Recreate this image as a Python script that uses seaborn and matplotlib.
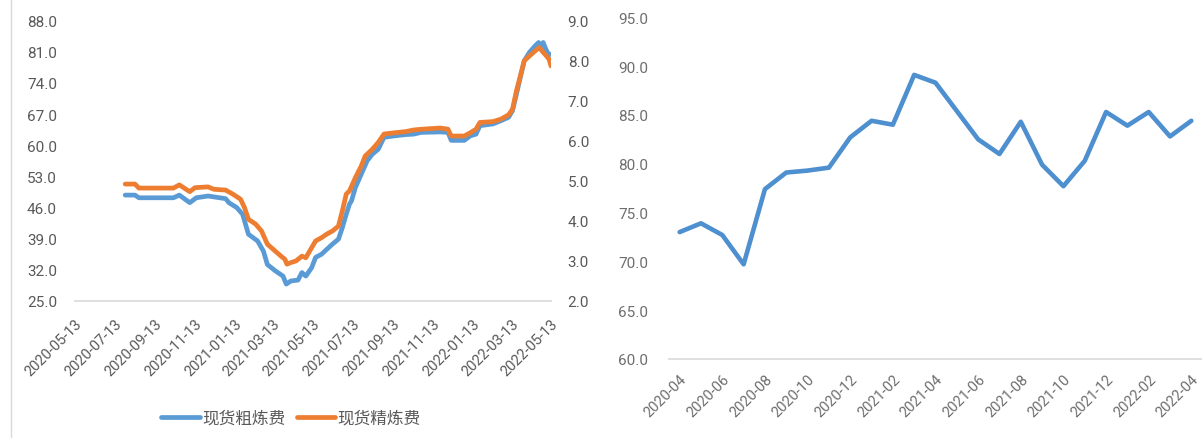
import matplotlib
matplotlib.use("Agg")
import matplotlib.pyplot as plt
from matplotlib.lines import Line2D
import numpy as np
import pandas as pd
import seaborn as sns

# ---------------- data ----------------
# Spot copper concentrate TC (USD/t), left axis
crude_dates = [
    "2020-07-29", "2020-08-13", "2020-08-19", "2020-10-11", "2020-10-20", "2020-11-05",
    "2020-11-15", "2020-12-03", "2020-12-30", "2021-01-04", "2021-01-16", "2021-01-25",
    "2021-02-03", "2021-02-17", "2021-02-26", "2021-03-04", "2021-03-16", "2021-03-28",
    "2021-04-02", "2021-04-09", "2021-04-20", "2021-04-26", "2021-05-02", "2021-05-11",
    "2021-05-17", "2021-05-26", "2021-06-03", "2021-06-12", "2021-06-21", "2021-06-27",
    "2021-07-03", "2021-07-08", "2021-07-11", "2021-07-17", "2021-07-26", "2021-08-04",
    "2021-08-12", "2021-08-21", "2021-08-30", "2021-09-14", "2021-10-02", "2021-10-14",
    "2021-10-26", "2021-11-24", "2021-12-06", "2021-12-11", "2021-12-31", "2022-01-09",
    "2022-01-18", "2022-01-24", "2022-02-13", "2022-02-25", "2022-03-09", "2022-03-15",
    "2022-03-21", "2022-03-27", "2022-04-02", "2022-04-10", "2022-04-19", "2022-04-24",
    "2022-04-26", "2022-05-01", "2022-05-05", "2022-05-09", "2022-05-13",
]
crude_tc = [
    48.8, 48.8, 48.2, 48.2, 48.8, 47.1,
    48.2, 48.6, 48.0, 47.1, 46.0, 44.5,
    40.0, 38.5, 36.2, 33.2, 31.8, 30.6,
    28.8, 29.5, 29.7, 31.4, 30.6, 32.5,
    34.8, 35.5, 36.6, 37.8, 38.9, 41.5,
    44.5, 46.8, 47.5, 50.5, 53.5, 56.5,
    58.0, 59.1, 61.8, 62.1, 62.4, 62.5,
    62.9, 63.0, 62.9, 61.1, 61.1, 62.1,
    62.5, 64.4, 64.8, 65.5, 66.3, 67.8,
    71.5, 75.3, 79.0, 80.9, 82.4, 83.1,
    82.0, 83.1, 81.6, 80.5, 80.4,
]

# Spot refining charge RC (US cents/lb), right axis
refine_dates = [
    "2020-07-29", "2020-08-13", "2020-08-19", "2020-10-11", "2020-10-20", "2020-11-05",
    "2020-11-13", "2020-12-03", "2020-12-12", "2020-12-30", "2021-01-10", "2021-01-22",
    "2021-01-28", "2021-02-03", "2021-02-14", "2021-02-23", "2021-03-04", "2021-03-13",
    "2021-03-25", "2021-03-31", "2021-04-03", "2021-04-09", "2021-04-17", "2021-04-26",
    "2021-05-02", "2021-05-08", "2021-05-17", "2021-05-26", "2021-06-03", "2021-06-12",
    "2021-06-21", "2021-06-27", "2021-07-03", "2021-07-08", "2021-07-17", "2021-07-26",
    "2021-08-01", "2021-08-12", "2021-08-21", "2021-08-30", "2021-09-14", "2021-10-02",
    "2021-10-14", "2021-10-26", "2021-11-24", "2021-12-06", "2021-12-11", "2021-12-31",
    "2022-01-09", "2022-01-18", "2022-01-24", "2022-02-13", "2022-02-25", "2022-03-09",
    "2022-03-15", "2022-03-21", "2022-03-27", "2022-04-02", "2022-04-10", "2022-04-19",
    "2022-04-25", "2022-05-01", "2022-05-06", "2022-05-10", "2022-05-13",
]
refine_rc = [
    4.92, 4.92, 4.82, 4.82, 4.90, 4.73,
    4.83, 4.85, 4.79, 4.77, 4.67, 4.54,
    4.33, 4.04, 3.92, 3.75, 3.42, 3.29,
    3.12, 3.04, 2.92, 2.96, 3.00, 3.12,
    3.08, 3.25, 3.50, 3.58, 3.67, 3.75,
    3.87, 4.25, 4.67, 4.75, 5.08, 5.37,
    5.62, 5.79, 5.96, 6.17, 6.20, 6.23,
    6.27, 6.29, 6.32, 6.29, 6.12, 6.12,
    6.20, 6.29, 6.46, 6.48, 6.54, 6.65,
    6.79, 7.25, 7.62, 8.00, 8.12, 8.25,
    8.33, 8.21, 8.12, 8.04, 7.87,
]

date_ticks = [
    "2020-05-13", "2020-07-13", "2020-09-13", "2020-11-13", "2021-01-13", "2021-03-13",
    "2021-05-13", "2021-07-13", "2021-09-13", "2021-11-13", "2022-01-13", "2022-03-13",
    "2022-05-13",
]
left_yticks = [25, 32, 39, 46, 53, 60, 67, 74, 81, 88]
right_yticks = [2, 3, 4, 5, 6, 7, 8, 9]
series_names = ["现货粗炼费", "现货精炼费"]

# Monthly series for the second panel
months = [
    "2020-04", "2020-05", "2020-06", "2020-07", "2020-08", "2020-09", "2020-10",
    "2020-11", "2020-12", "2021-01", "2021-02", "2021-03", "2021-04", "2021-05",
    "2021-06", "2021-07", "2021-08", "2021-09", "2021-10", "2021-11", "2021-12",
    "2022-01", "2022-02", "2022-03", "2022-04",
]
monthly_values = [
    73.0, 73.9, 72.7, 69.7, 77.4, 79.1, 79.3,
    79.6, 82.7, 84.4, 84.0, 89.1, 88.3, 85.4,
    82.5, 81.0, 84.3, 79.9, 77.7, 80.3, 85.3,
    83.9, 85.3, 82.8, 84.4,
]
monthly_yticks = [60, 65, 70, 75, 80, 85, 90, 95]

# ---------------- style ----------------
sns.set_theme(style="white")
plt.rcParams["font.family"] = ["Roboto", "Noto Sans CJK SC", "DejaVu Sans"]

BLUE = "#5B9BD5"
ORANGE = "#ED7D31"
LINE_BLUE = "#4D8FCF"
AXIS_GREY = "#D9D9D9"
TEXT = "#595959"
TEXT2 = "#6E6E6E"

W, H = 1202, 439
fig = plt.figure(figsize=(W / 100, H / 100), dpi=100)
fig.patch.set_facecolor("white")


def box(x0, y0, x1, y1):
    return [x0 / W, 1 - y1 / H, (x1 - x0) / W, (y1 - y0) / H]


# ---------------- left panel: TC / RC ----------------
crude_df = pd.DataFrame({"date": pd.to_datetime(crude_dates), "value": crude_tc})
refine_df = pd.DataFrame({"date": pd.to_datetime(refine_dates), "value": refine_rc})

ax = fig.add_axes(box(75, 21.7, 551, 302))
ax2 = ax.twinx()

sns.lineplot(data=crude_df, x="date", y="value", ax=ax, color=BLUE, linewidth=3.4,
             solid_joinstyle="round", solid_capstyle="round")
sns.lineplot(data=refine_df, x="date", y="value", ax=ax2, color=ORANGE, linewidth=3.4,
             solid_joinstyle="round", solid_capstyle="round")

tick_dates = pd.to_datetime(date_ticks)
ax.set_xlim(tick_dates[0], tick_dates[-1])
ax.set_xticks(tick_dates)
ax.set_xticklabels(date_ticks, rotation=45, ha="right", va="top",
                   rotation_mode="anchor", fontsize=10.5, color=TEXT)

ax.set_ylim(left_yticks[0], left_yticks[-1])
ax.set_yticks(left_yticks)
ax.set_yticklabels([f"{v:.1f}" for v in left_yticks], fontsize=11, color=TEXT)
ax2.set_ylim(right_yticks[0], right_yticks[-1])
ax2.set_yticks(right_yticks)
ax2.set_yticklabels([f"{v:.1f}" for v in right_yticks], fontsize=11, color=TEXT)

for a in (ax, ax2):
    a.set_xlabel("")
    a.set_ylabel("")
    for s in ("left", "right", "top"):
        a.spines[s].set_visible(False)
    a.grid(False)
ax2.spines["bottom"].set_visible(False)
ax.spines["bottom"].set_color(AXIS_GREY)
ax.spines["bottom"].set_linewidth(1.2)
ax.set_facecolor("none")
ax.tick_params(axis="x", length=5, width=1, color=AXIS_GREY, pad=6, direction="out")
ax.tick_params(axis="y", length=0, pad=13)
ax2.tick_params(axis="y", length=0, pad=12)

handles = [Line2D([], [], color=BLUE, linewidth=3.4, solid_capstyle="round"),
           Line2D([], [], color=ORANGE, linewidth=3.4, solid_capstyle="round")]
leg = fig.legend(handles, series_names, loc="center", bbox_to_anchor=(291 / W, 1 - 419 / H),
                 ncol=2, frameon=False, fontsize=12, handlelength=2.3,
                 handletextpad=0.15, columnspacing=0.7)
for t in leg.get_texts():
    t.set_color(TEXT)

# thin frame edge on the left of the first panel
fig.add_artist(Line2D([11 / W, 11 / W], [0.0, 1.0], color=AXIS_GREY, linewidth=1.0))

# ---------------- right panel: monthly series ----------------
monthly_df = pd.DataFrame({"idx": np.arange(len(months)), "value": monthly_values})
ax3 = fig.add_axes(box(669, 18.3, 1202, 360))
sns.lineplot(data=monthly_df, x="idx", y="value", ax=ax3, color=LINE_BLUE, linewidth=3.3,
             solid_joinstyle="round", solid_capstyle="round")

ax3.set_xlim(-0.5, len(months) - 0.5)
ax3.set_ylim(monthly_yticks[0], monthly_yticks[-1])
ax3.set_yticks(monthly_yticks)
ax3.set_yticklabels([f"{v:.1f}" for v in monthly_yticks], fontsize=11, color=TEXT2)
major = np.arange(0, len(months), 2)
ax3.set_xticks(major)
ax3.set_xticklabels([months[i] for i in major], rotation=45, ha="right", va="top",
                    rotation_mode="anchor", fontsize=10.5, color=TEXT2)
ax3.set_xticks(np.arange(-0.5, len(months) - 1, 2), minor=True)
ax3.tick_params(axis="x", which="major", length=0, pad=9)
ax3.tick_params(axis="x", which="minor", length=5, width=1, color=AXIS_GREY, direction="out")
ax3.tick_params(axis="y", length=0, pad=15)
ax3.set_xlabel("")
ax3.set_ylabel("")
for s in ("left", "right", "top"):
    ax3.spines[s].set_visible(False)
ax3.spines["bottom"].set_color(AXIS_GREY)
ax3.spines["bottom"].set_linewidth(1.2)
ax3.grid(False)

fig.savefig("out.png", dpi=100, facecolor="white")
